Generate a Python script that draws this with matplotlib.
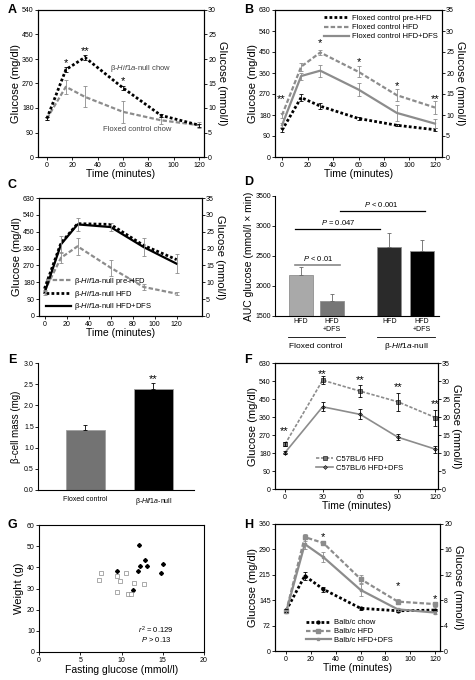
import numpy as np
import matplotlib.pyplot as plt
from matplotlib.lines import Line2D

plt.rcParams['font.family'] = ['Liberation Sans', 'DejaVu Sans']
plt.rcParams['mathtext.fontset'] = 'custom'
plt.rcParams['mathtext.rm'] = 'Liberation Sans'
plt.rcParams['mathtext.it'] = 'Liberation Sans:italic'
plt.rcParams['axes.linewidth'] = 0.8
plt.rcParams['xtick.major.size'] = 2
plt.rcParams['ytick.major.size'] = 2
plt.rcParams['xtick.major.width'] = 0.6
plt.rcParams['ytick.major.width'] = 0.6
plt.rcParams['xtick.major.pad'] = 1.5
plt.rcParams['ytick.major.pad'] = 1

NULL = r'β-$\mathit{Hif1a}$-null'

# ---- data ----
# A
t_a = [0, 15, 30, 60, 90, 120]
a_null = [141, 321, 366, 254, 153, 117]
a_null_err = [5, 10, 8, 8, 5, 5]
a_flox = [141, 258, 221, 166, 135, 117]
a_flox_err = [5, 25, 39, 41, 13, 12]

# B
t_b = [0, 15, 30, 60, 90, 120]
b_pre = [115, 255, 218, 165, 136, 117]
b_pre_err = [8, 15, 12, 7, 5, 6]
b_hfd = [179, 387, 448, 365, 265, 212]
b_hfd_err = [10, 18, 12, 23, 25, 27]
b_dfs = [136, 347, 370, 289, 189, 143]
b_dfs_err = [8, 15, 25, 27, 36, 19]

# C
t_c = [0, 15, 30, 60, 90, 120]
c_pre = [133, 311, 372, 258, 155, 119]
c_pre_err = [8, 30, 45, 42, 15, 8]
c_hfd = [146, 390, 493, 489, 377, 301]
c_dfs = [123, 383, 489, 475, 368, 279]
c_err = [10, 45, 35, 20, 48, 50]

# D
d_labels = ['HFD', 'HFD\n+DFS', 'HFD', 'HFD\n+DFS']
d_vals = [2183, 1750, 2650, 2583]
d_err = [134, 117, 233, 184]

# E
e_labels = ['Floxed control', NULL]
e_vals = [1.42, 2.38]
e_err = [0.12, 0.15]

# F
t_f = [0, 30, 60, 90, 120]
f_hfd = [224, 544, 489, 436, 357]
f_hfd_err = [10, 20, 30, 45, 40]
f_dfs = [182, 411, 373, 259, 199]
f_dfs_err = [8, 22, 25, 15, 18]

# G
g_null_x = [9.47, 12.15, 12.23, 11.94, 12.83, 13.12, 11.42, 14.82, 14.98]
g_null_y = [38.2, 50.5, 40.7, 38.4, 43.4, 40.6, 29.5, 37.4, 41.5]
g_flox_x = [7.57, 7.25, 9.47, 9.8, 10.6, 9.4, 10.8, 11.1, 11.5, 12.75]
g_flox_y = [37.4, 33.9, 35.8, 33.6, 37.4, 28.4, 27.3, 27.3, 32.7, 32.1]

# H
t_h = [0, 15, 30, 60, 90, 120]
h_chow = [115, 213, 175, 121, 114, 116]
h_chow_err = [4, 12, 7, 4, 3, 3]
h_hfd = [112, 323, 306, 204, 140, 133]
h_hfd_err = [4, 10, 6, 12, 6, 7]
h_dfs = [111, 303, 266, 173, 118, 109]
h_dfs_err = [4, 15, 15, 18, 5, 4]
h_ticks = [0, 72, 144, 216, 288, 360]
h_ticklabels = ['0', '72', '145', '215', '290', '360']

W, H = 475, 680
fig = plt.figure(figsize=(W / 100, H / 100), dpi=100)


def ax_at(l, t, r, b):
    return fig.add_axes([l / W, 1 - b / H, (r - l) / W, (b - t) / H])


def style(ax):
    ax.tick_params(labelsize=5)


def glucose(ax, ymax, step, mmax, mstep, xlab=True):
    ax.set_ylim(0, ymax)
    ax.set_yticks(np.arange(0, ymax + 1, step))
    ax.set_ylabel('Glucose (mg/dl)', fontsize=8, labelpad=1)
    if xlab:
        ax.set_xlabel('Time (minutes)', fontsize=7.5, labelpad=0)
    style(ax)
    ax2 = ax.twinx()
    ax2.set_ylim(0, mmax)
    ax2.set_yticks(np.arange(0, mmax + 0.1, mstep))
    ax2.set_ylabel('Glucose (mmol/l)', fontsize=8, rotation=270, labelpad=8)
    style(ax2)
    return ax2


def letter(x, y, s):
    fig.text(x / W, 1 - y / H, s, fontsize=9, fontweight='bold', va='center', ha='left')


BLK_DOT = dict(color='black', linestyle=(0, (1, 0.8)), linewidth=2)
GRY_DASH = dict(color='#8c8c8c', linestyle=(0, (2, 1)), linewidth=1.6)
GRY_SOLID = dict(color='#8c8c8c', linestyle='-', linewidth=1.6)
BLK_SOLID = dict(color='black', linestyle='-', linewidth=1.6)


def ebar(ax, t, y, e, c):
    ax.errorbar(t, y, yerr=e, fmt='none', ecolor=c, elinewidth=0.6, capsize=1.2, capthick=0.6)


# ---- A ----
ax = ax_at(38, 10, 204, 157)
ax.plot(t_a, a_flox, **GRY_DASH)
ebar(ax, t_a, a_flox, a_flox_err, '#8c8c8c')
ax.plot(t_a, a_null, **BLK_DOT)
ebar(ax, t_a, a_null, a_null_err, 'black')
ax.set_xlim(-7, 124)
ax.set_xticks(range(0, 121, 20))
glucose(ax, 540, 90, 30, 5)
ax.text(15, 335, '*', fontsize=8, ha='center')
ax.text(30, 378, '**', fontsize=8, ha='center')
ax.text(60, 268, '*', fontsize=8, ha='center')
ax.text(50, 325, NULL + ' chow', fontsize=5.5, color='#444444', va='center')
ax.text(44, 100, 'Floxed control chow', fontsize=5.5, color='#444444', va='center')
letter(8, 10, 'A')

# ---- B ----
ax = ax_at(275, 10, 442, 157)
ax.plot(t_b, b_pre, **BLK_DOT, label='Floxed control pre-HFD')
ax.plot(t_b, b_hfd, **GRY_DASH, label='Floxed control HFD')
ax.plot(t_b, b_dfs, **GRY_SOLID, label='Floxed control HFD+DFS')
ebar(ax, t_b, b_pre, b_pre_err, 'black')
ebar(ax, t_b, b_hfd, b_hfd_err, '#8c8c8c')
ebar(ax, t_b, b_dfs, b_dfs_err, '#8c8c8c')
ax.set_xlim(-5.5, 125.5)
ax.set_xticks(range(0, 121, 20))
glucose(ax, 630, 90, 35, 5)
for tx, ty, s in [(-1, 235, '**'), (30, 475, '*'), (60, 395, '*'), (90, 292, '*'), (120, 235, '**')]:
    ax.text(tx, ty, s, fontsize=8, ha='center')
ax.legend(loc='upper right', fontsize=5.5, frameon=False, handlelength=3.2,
          borderaxespad=0.2, labelspacing=0.25, handletextpad=0.4)
letter(244, 10, 'B')

# ---- C ----
ax = ax_at(39, 198, 202, 316)
ax.plot(t_c, c_pre, **GRY_DASH, label=NULL + ' pre-HFD')
ax.plot(t_c, c_hfd, **BLK_DOT, label=NULL + ' HFD')
ax.plot(t_c, c_dfs, **BLK_SOLID, label=NULL + ' HFD+DFS')
ebar(ax, t_c, c_pre, c_pre_err, '#8c8c8c')
ebar(ax, t_c, c_dfs, c_err, '#8c8c8c')
ax.set_xlim(-5, 143)
ax.set_xticks(range(0, 121, 20))
glucose(ax, 630, 90, 35, 5)
ax.legend(loc='lower left', fontsize=5.5, frameon=False, handlelength=3.2,
          borderaxespad=0.1, labelspacing=0.2, handletextpad=0.4, bbox_to_anchor=(0.02, 0.0))
letter(8, 185, 'C')

# ---- D ----
ax = ax_at(275, 196, 439, 316)
d_pos = [0, 1, 2.85, 3.9]
d_colors = ['#a9a9a9', '#767676', '#2a2a2a', '#000000']
ax.bar(d_pos, d_vals, width=0.77, color=d_colors, edgecolor='#909090', linewidth=0.6,
       yerr=[[0] * 4, d_err], error_kw=dict(elinewidth=0.6, capsize=1.5, capthick=0.6, ecolor='#666666'))
ax.set_xlim(-0.84, 4.45)
ax.set_ylim(1500, 3500)
ax.set_yticks(range(1500, 3501, 500))
ax.set_xticks(d_pos)
ax.set_xticklabels(d_labels, fontsize=5.5, linespacing=1.2)
ax.tick_params(axis='x', length=0)
ax.spines['top'].set_visible(False)
ax.spines['right'].set_visible(False)
style(ax)
ax.set_ylabel('AUC glucose (mmol/l × min)', fontsize=7.5, labelpad=1)
ax.plot([-0.19, 1.26], [2350, 2350], color='#888888', lw=1.2)
ax.text(0.55, 2380, r'$\mathit{P}$ < 0.01', fontsize=5.5, ha='center', va='bottom')
ax.plot([-0.19, 2.55], [2950, 2950], color='black', lw=0.9)
ax.text(1.2, 2980, r'$\mathit{P}$ = 0.047', fontsize=5.5, ha='center', va='bottom')
ax.plot([1.26, 4.0], [3250, 3250], color='black', lw=0.9)
ax.text(2.6, 3280, r'$\mathit{P}$ < 0.001', fontsize=5.5, ha='center', va='bottom')
fig.add_artist(Line2D([288 / W, 345 / W], [1 - 337 / H] * 2, color='black', lw=0.6))
fig.add_artist(Line2D([377 / W, 435 / W], [1 - 337 / H] * 2, color='black', lw=0.6))
fig.text(316 / W, 1 - 346 / H, 'Floxed control', fontsize=6, ha='center', va='center')
fig.text(406 / W, 1 - 346 / H, NULL, fontsize=6, ha='center', va='center')
letter(244, 182, 'D')

# ---- E ----
ax = ax_at(38, 363, 194, 490)
ax.bar([0, 1], e_vals, width=0.57, color=['#737373', '#000000'], edgecolor='#a0a0a0', linewidth=0.6,
       yerr=[[0, 0], e_err], error_kw=dict(elinewidth=0.6, capsize=1.5, capthick=0.6))
ax.set_xlim(-0.7, 1.6)
ax.set_ylim(0, 3)
ax.set_yticks(np.arange(0, 3.01, 0.5))
ax.set_xticks([0, 1])
ax.set_xticklabels(e_labels, fontsize=5.5)
ax.tick_params(axis='x', length=0, pad=4)
ax.spines['top'].set_visible(False)
ax.spines['right'].set_visible(False)
style(ax)
ax.set_ylabel('β-cell mass (mg)', fontsize=7, labelpad=2)
ax.text(1, 2.55, '**', fontsize=8, ha='center')
letter(8, 360, 'E')

# ---- F ----
ax = ax_at(275, 363, 438, 489)
ax.plot(t_f, f_hfd, color='#8c8c8c', linestyle=(0, (2, 1)), lw=1.2, marker='s', ms=2.5,
        mfc='#777777', mec='black', mew=0.4, label='C57BL/6 HFD')
ax.plot(t_f, f_dfs, color='#8c8c8c', linestyle='-', lw=1.2, marker='D', ms=2,
        mfc='#777777', mec='black', mew=0.4, label='C57BL/6 HFD+DFS')
ebar(ax, t_f, f_hfd, f_hfd_err, 'black')
ebar(ax, t_f, f_dfs, f_dfs_err, 'black')
ax.set_xlim(-8, 122)
ax.set_xticks(range(0, 121, 30))
glucose(ax, 630, 90, 35, 5)
for tx, ty, s in [(-1, 275, '**'), (30, 560, '**'), (60, 530, '**'), (90, 493, '**'), (120, 408, '**')]:
    ax.text(tx, ty, s, fontsize=8, ha='center')
ax.legend(loc='lower center', fontsize=5.5, frameon=False, handlelength=2.2,
          labelspacing=0.25, handletextpad=0.4, bbox_to_anchor=(0.52, 0.08))
letter(244, 360, 'F')

# ---- G ----
ax = ax_at(39, 525, 204, 652)
ax.plot(g_null_x, g_null_y, linestyle='none', marker='D', ms=2, color='black')
ax.plot(g_flox_x, g_flox_y, linestyle='none', marker='s', ms=2.5, mfc='white', mec='#888888', mew=0.5)
ax.set_xlim(0, 20)
ax.set_ylim(0, 60)
ax.set_xticks(range(0, 21, 5))
ax.set_yticks(range(0, 61, 10))
style(ax)
ax.set_xlabel('Fasting glucose (mmol/l)', fontsize=7.5, labelpad=1)
ax.set_ylabel('Weight (g)', fontsize=8, labelpad=2)
ax.text(14.2, 10.3, r'$\mathit{r}^2$ = 0.129', fontsize=5.5, ha='center', va='center')
ax.text(14.2, 5.8, r'$\mathit{P}$ > 0.13', fontsize=5.5, ha='center', va='center')
letter(8, 525, 'G')

# ---- H ----
ax = ax_at(275, 524, 440, 651)
ax.plot(t_h, h_chow, **BLK_DOT, marker='o', ms=2, label='Balb/c chow')
ax.plot(t_h, h_hfd, **GRY_DASH, marker='s', ms=2.5, label='Balb/c HFD')
ax.plot(t_h, h_dfs, **GRY_SOLID, marker='s', ms=2, label='Balb/c HFD+DFS')
ebar(ax, t_h, h_chow, h_chow_err, 'black')
ebar(ax, t_h, h_hfd, h_hfd_err, '#8c8c8c')
ebar(ax, t_h, h_dfs, h_dfs_err, '#8c8c8c')
ax.set_xlim(-9, 124)
ax.set_xticks(range(0, 121, 20))
ax2 = glucose(ax, 360, 72, 20, 4)
ax.set_yticks(h_ticks)
ax.set_yticklabels(h_ticklabels)
for tx, ty, s in [(30, 315, '*'), (90, 175, '*'), (120, 140, '*')]:
    ax.text(tx, ty, s, fontsize=8, ha='center')
ax.legend(loc='lower center', fontsize=5.5, frameon=False, handlelength=3.2,
          labelspacing=0.2, handletextpad=0.4, bbox_to_anchor=(0.45, 0.0))
letter(244, 525, 'H')

fig.savefig('out.png', dpi=100)
